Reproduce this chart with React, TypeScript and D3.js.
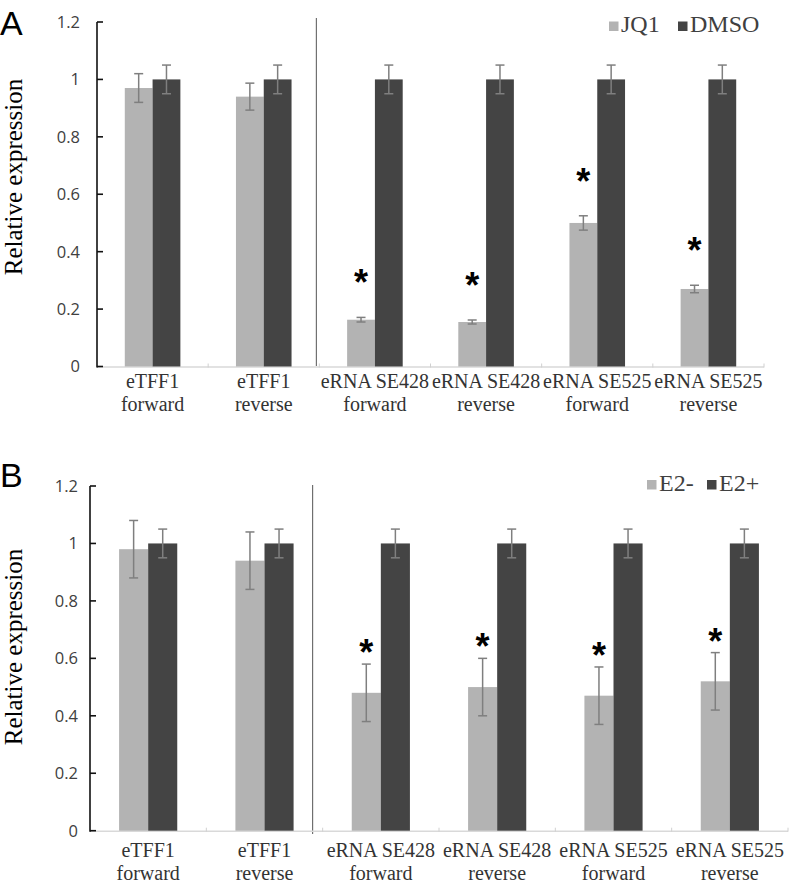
import React from "react";
import * as d3 from "d3";

// ---------- data ----------
const categoryLine1 = ["eTFF1", "eTFF1", "eRNA SE428", "eRNA SE428", "eRNA SE525", "eRNA SE525"];
const categoryLine2 = ["forward", "reverse", "forward", "reverse", "forward", "reverse"];
const yTicks = [0, 0.2, 0.4, 0.6, 0.8, 1, 1.2];

const seriesNamesA = ["JQ1", "DMSO"];
const jq1Values = [0.97, 0.94, 0.163, 0.155, 0.5, 0.27];
const jq1Errors = [0.05, 0.047, 0.008, 0.007, 0.025, 0.013];
const dmsoValues = [1, 1, 1, 1, 1, 1];
const dmsoErrors = [0.05, 0.05, 0.05, 0.05, 0.05, 0.05];
const significantA = [false, false, true, true, true, true];

const seriesNamesB = ["E2-", "E2+"];
const e2MinusValues = [0.98, 0.94, 0.48, 0.5, 0.47, 0.52];
const e2MinusErrors = [0.1, 0.1, 0.1, 0.1, 0.1, 0.1];
const e2PlusValues = [1, 1, 1, 1, 1, 1];
const e2PlusErrors = [0.05, 0.05, 0.05, 0.05, 0.05, 0.05];
const significantB = [false, false, true, true, true, true];

// ---------- styles ----------
const COLORS = ["#b3b3b3", "#444444"];
const ERR = "#7f7f7f";
const SERIF = "'Liberation Serif', 'Times New Roman', serif";
const SANS = "'Liberation Sans', Arial, sans-serif";
const TICKFONT = "'Open Sans', 'Noto Sans', sans-serif";

type Cfg = {
  x0: number; x1: number; yTop: number; yZero: number;
  sepOffset: number; sepTop: number; sepBottom: number;
  labelOffset: number; tickGap: number;
  legendX: number; legendY: number; legendSpacing: number;
  letter: string; letterY: number; yLabelY: number; starGap: number;
};

function Panel({ cfg, names, values, errors, sig }: {
  cfg: Cfg; names: string[]; values: number[][]; errors: number[][]; sig: boolean[];
}) {
  const idx = d3.range(categoryLine1.length);
  const x = d3.scaleBand<number>().domain(idx).range([cfg.x0, cfg.x1]).paddingInner(0.5).paddingOuter(0.25);
  const sub = d3.scaleBand<number>().domain([0, 1]).range([0, x.bandwidth()]);
  const y = d3.scaleLinear().domain([0, 1.2]).range([cfg.yZero, cfg.yTop]);
  const step = x.step();
  const bound = (i: number) => cfg.x0 + i * step;
  const fmt = (v: number) => String(+v.toFixed(1));
  const bw = sub.bandwidth();

  return (
    <g>
      {/* panel letter */}
      <text x={0} y={cfg.letterY} fontFamily={SANS} fontSize={34} fill="#000">{cfg.letter}</text>
      {/* y label */}
      <text transform={`translate(22,${cfg.yLabelY}) rotate(-90)`} textAnchor="middle" fontFamily={SERIF} fontSize={25} fill="#000">Relative expression</text>
      {/* separator */}
      <line x1={bound(2) + cfg.sepOffset} x2={bound(2) + cfg.sepOffset} y1={cfg.sepTop} y2={cfg.sepBottom} stroke="#555" strokeWidth={1} />
      {/* x axis */}
      <line x1={cfg.x0} x2={cfg.x1} y1={cfg.yZero + 0.5} y2={cfg.yZero + 0.5} stroke="#d9d9d9" strokeWidth={1.5} />
      {d3.range(1, categoryLine1.length + 1).map((i) => (
        <line key={"xt" + i} x1={bound(i)} x2={bound(i)} y1={cfg.yZero - 3} y2={cfg.yZero + 1} stroke="#d0d0d0" strokeWidth={1} />
      ))}
      {/* bars */}
      {idx.map((i) =>
        [0, 1].map((s) => (
          <rect key={`b${i}-${s}`} x={(x(i) as number) + (sub(s) as number)} width={bw}
            y={y(values[s][i])} height={cfg.yZero - y(values[s][i])} fill={COLORS[s]} />
        ))
      )}
      {/* error bars */}
      {idx.map((i) =>
        [0, 1].map((s) => {
          const cx = (x(i) as number) + (sub(s) as number) + bw / 2;
          const hi = y(values[s][i] + errors[s][i]);
          const lo = y(values[s][i] - errors[s][i]);
          return (
            <g key={`e${i}-${s}`} stroke={ERR} strokeWidth={1.5}>
              <line x1={cx} x2={cx} y1={hi} y2={lo} />
              <line x1={cx - 4.5} x2={cx + 4.5} y1={hi} y2={hi} />
              <line x1={cx - 4.5} x2={cx + 4.5} y1={lo} y2={lo} />
            </g>
          );
        })
      )}
      {/* significance */}
      {idx.filter((i) => sig[i]).map((i) => {
        const cx = (x(i) as number) + (sub(0) as number) + bw / 2;
        const top = y(values[0][i] + errors[0][i]);
        return (
          <text key={"s" + i} x={cx} y={top - cfg.starGap + 20} textAnchor="middle" fontFamily={SANS} fontWeight="bold" fontSize={36} fill="#000">*</text>
        );
      })}
      {/* y axis */}
      <line x1={cfg.x0} x2={cfg.x0} y1={cfg.yTop} y2={cfg.yZero + 1} stroke="#111" strokeWidth={1.6} />
      {yTicks.map((t) => (
        <g key={"yt" + t}>
          <line x1={cfg.x0} x2={cfg.x0 + 6} y1={y(t)} y2={y(t)} stroke="#111" strokeWidth={1.6} />
          <text x={cfg.x0 - cfg.tickGap} y={y(t)} dy="0.36em" textAnchor="end" fontFamily={TICKFONT} fontSize={16.5} fill="#404040">{fmt(t)}</text>
        </g>
      ))}
      {/* x labels */}
      {idx.map((i) => {
        const cx = (x(i) as number) + x.bandwidth() / 2;
        return (
          <text key={"xl" + i} x={cx} textAnchor="middle" fontFamily={SERIF} fontSize={20} fill="#333">
            <tspan x={cx} y={cfg.yZero + cfg.labelOffset}>{categoryLine1[i]}</tspan>
            <tspan x={cx} y={cfg.yZero + cfg.labelOffset + 23}>{categoryLine2[i]}</tspan>
          </text>
        );
      })}
      {/* legend */}
      {names.map((n, s) => (
        <g key={"lg" + s} transform={`translate(${cfg.legendX + s * cfg.legendSpacing},${cfg.legendY})`}>
          <rect x={0} y={0} width={9.5} height={9.5} fill={COLORS[s]} />
          <text x={12} y={10.5} fontFamily={SERIF} fontSize={24} fill="#404040">{n}</text>
        </g>
      ))}
    </g>
  );
}

const cfgA: Cfg = {
  x0: 97, x1: 764, yTop: 22, yZero: 366.5,
  sepOffset: -3, sepTop: 18, sepBottom: 366,
  labelOffset: 21, tickGap: 17,
  legendX: 609, legendY: 21.5, legendSpacing: 69,
  letter: "A", letterY: 35, yLabelY: 177, starGap: 42,
};
const cfgB: Cfg = {
  x0: 90, x1: 788, yTop: 486, yZero: 830.7,
  sepOffset: -10, sepTop: 485, sepBottom: 834,
  labelOffset: 26, tickGap: 12,
  legendX: 647, legendY: 480, legendSpacing: 60,
  letter: "B", letterY: 487, yLabelY: 647, starGap: 19,
};

export default function App() {
  return (
    <svg width={796} height={887} viewBox="0 0 796 887"
      style={{ position: "absolute", left: 0, top: 0, background: "#fff", display: "block" }}>
      <rect x={0} y={0} width={796} height={887} fill="#fff" />
      <Panel cfg={cfgA} names={seriesNamesA} values={[jq1Values, dmsoValues]} errors={[jq1Errors, dmsoErrors]} sig={significantA} />
      <Panel cfg={cfgB} names={seriesNamesB} values={[e2MinusValues, e2PlusValues]} errors={[e2MinusErrors, e2PlusErrors]} sig={significantB} />
    </svg>
  );
}
